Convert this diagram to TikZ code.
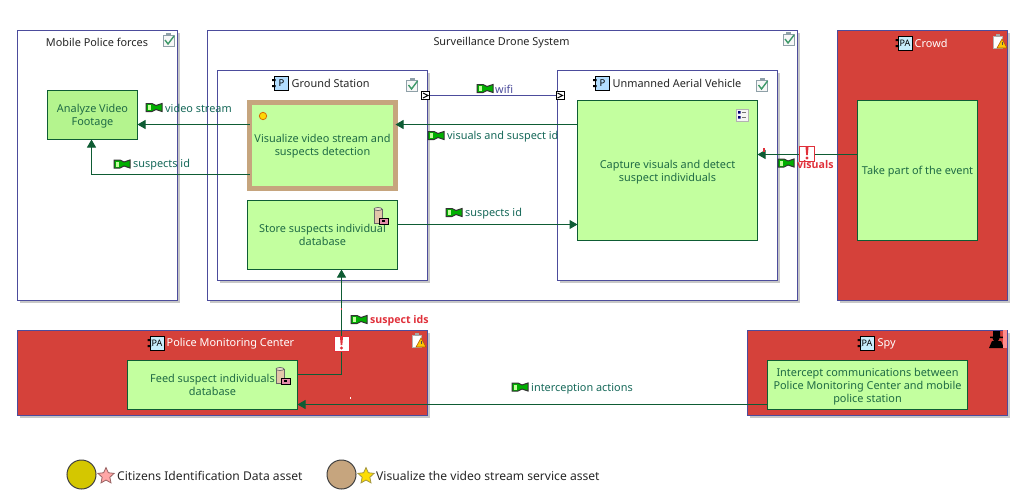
\documentclass[tikz,border=0pt]{standalone}
\usepackage{fontspec}
\setmainfont{Noto Sans}
\newfontfamily\alertfont{Open Sans}
\usetikzlibrary{arrows.meta,shadows,shapes.geometric}
\definecolor{framecol}{HTML}{4C4C9C}
\definecolor{attackcol}{HTML}{D5413A}
\definecolor{funccol}{HTML}{C3FF9F}
\definecolor{funcdark}{HTML}{B4F48E}
\definecolor{flowcol}{HTML}{0E5C34}
\definecolor{functext}{HTML}{1F6B45}
\definecolor{labeltext}{HTML}{17695A}
\definecolor{alertcol}{HTML}{E0303A}
\definecolor{assetyellow}{HTML}{D4C700}
\definecolor{assettan}{HTML}{C6A57E}
\definecolor{clipcol}{HTML}{8FA0A8}
\definecolor{checkcol}{HTML}{3F9A6A}
\tikzset{
  basefont/.style={font=\fontsize{10.9}{13}\selectfont},
  framebox/.style={draw=framecol, line width=1pt, inner sep=0pt, outer sep=0pt,
    drop shadow={shadow xshift=2.5pt, shadow yshift=-2.5pt, fill=black!22, opacity=1}},
  plainframe/.style={framebox, fill=white},
  redframe/.style={framebox, fill=attackcol},
  funcbox/.style={draw=flowcol, line width=1pt, fill=funccol, inner sep=0pt, outer sep=0pt,
    align=center, text=functext, basefont, text depth=0pt},
  titletext/.style={basefont, text=black!85, inner sep=0pt},
  redtitle/.style={basefont, text=white, inner sep=0pt},
  flow/.style={draw=flowcol, line width=1pt, -{Triangle[length=8pt,width=9pt]}},
  flowtext/.style={basefont, text=labeltext, anchor=west, inner sep=0pt},
  alerttext/.style={text=alertcol, anchor=west, inner sep=0pt, font=\alertfont\fontsize{10.6}{13}\selectfont\bfseries},
  portbox/.style={draw=black, line width=1pt, fill=white, minimum size=8pt, inner sep=0pt, outer sep=0pt},
  alertbox/.style={draw=alertcol, line width=1pt, fill=white, minimum width=15pt, minimum height=15pt, inner sep=0pt},
  assetdot/.style={circle, draw=black!75, line width=1pt, minimum size=29pt, inner sep=0pt},
  legendtext/.style={font=\fontsize{12.1}{14}\selectfont, text=black!85, anchor=west, inner sep=0pt},
  % small icons
  checkicon/.pic={
    \draw[clipcol, fill=black!3, line width=.8pt] (-5,-5) rectangle (6,6);
    \fill[clipcol] (-2,-7) rectangle (3,-4);
    \draw[checkcol, line width=1.4pt] (-3,0) -- (0,4) -- (6,-4);
  },
  warnicon/.pic={
    \draw[black!30, fill=white, line width=.8pt] (-6,-5) rectangle (3,7);
    \fill[black!35] (-3,-7) rectangle (1,-4);
    \draw[orange!70!black, fill=yellow!60!orange, line width=.6pt] (-2,7) -- (3,-2) -- (8,7) -- cycle;
    \draw[black!70, line width=1pt] (3,1) -- (3,4);
  },
  compicon/.pic={
    \draw[black, line width=.8pt, fill=blue!45!cyan!30!white] (-7,-7) rectangle (7,7);
    \fill[black] (-9.5,-4) rectangle (-6,-2) (-9.5,2) rectangle (-6,4);
    \node[font=\fontsize{9.5}{10}\selectfont, text=black, inner sep=0pt] at (0,0) {P};
  },
  actoricon/.pic={
    \draw[black, line width=.8pt, fill=cyan!22!white] (-7,-7) rectangle (7,7);
    \fill[black] (-9.5,-4) rectangle (-6,-2) (-9.5,2) rectangle (-6,4);
    \node[font=\fontsize{9}{10}\selectfont, text=black, inner sep=0pt] at (0,0) {PA};
  },
  flagicon/.pic={
    \draw[black!80, fill=green!55!black!70!green, line width=1pt] (-8,-4) -- (-2,-4) -- (2,-2) -- (8,-4) -- (8,4) -- (2,2) -- (-2,4) -- (-8,4) -- cycle;
    \fill[funccol] (-6.5,-2.5) rectangle (-3,2.5);
  },
  dbicon/.pic={
    \draw[black!60, fill=brown!45!white, line width=.7pt] (-7,-8) rectangle (1,6);
    \draw[black!60, fill=brown!25!white, line width=.7pt] (-3,-8) ellipse (4 and 1.5);
    \draw[black, fill=purple!45!white, line width=.8pt] (-2,1) rectangle (7,7);
    \fill[black] (1,3) rectangle (4,5);
  },
  listicon/.pic={
    \draw[black!30, fill=black!4, line width=.8pt] (-6,-6) rectangle (6,6);
    \fill[blue!45!black] (-4,-4) rectangle (-1.5,-1.5) (-4,1) rectangle (-1.5,3.5);
    \draw[black!55, line width=.8pt] (0,-3) -- (4,-3) (0,2) -- (4,2);
  },
  staricon/.pic={
    \node[star, star points=5, star point ratio=2.1, draw=#1!60!black, fill=#1, line width=.8pt,
      minimum size=17pt, inner sep=0pt] {};
  },
  spyicon/.pic={
    \fill[black] (-4,-9) rectangle (3,-3) (-7,-3.5) rectangle (6,-2);
    \fill[black] (-1,-2) circle (3.5);
    \fill[black] (-8,8) -- (-5,1) -- (4,1) -- (7,8) -- cycle;
    \fill[red!45!white] (6,-10) rectangle (10,8);
  },
  exclaim/.pic={
    \fill[alertcol] (-1.5,-6) -- (1.5,-6) -- (.8,2) -- (-.8,2) -- cycle;
    \fill[alertcol] (0,5) circle (1.7);
  },
}
\begin{document}
\begin{tikzpicture}[x=1pt, y=-1pt]
\useasboundingbox (0,0) rectangle (1016,501);
% outer frames
\node[plainframe, minimum width=160pt, minimum height=270pt] (mobile) at (97.5,165.5) {};
\node[plainframe, minimum width=590pt, minimum height=270pt] (drone) at (502.5,165.5) {};
\node[redframe, minimum width=170pt, minimum height=270pt] (crowd) at (922.5,165.5) {};
\node[redframe, minimum width=410pt, minimum height=85pt] (center) at (222.5,373) {};
\node[redframe, minimum width=260pt, minimum height=85pt] (spy) at (877.5,373) {};
% inner frames
\node[plainframe, minimum width=210pt, minimum height=210pt] (ground) at (322.5,175.5) {};
\node[plainframe, minimum width=220pt, minimum height=210pt] (uav) at (667.5,175.5) {};
% titles
\node[titletext] (mobiletitle) at (97,42.5) {Mobile Police forces};
\node[titletext] (dronetitle) at (501.5,42.5) {Surveillance Drone System};
\node[titletext, anchor=west] (groundtitle) at (291.5,83.5) {Ground Station};
\node[titletext, anchor=west] (uavtitle) at (612.5,83.5) {Unmanned Aerial Vehicle};
\node[redtitle, anchor=west] (crowdtitle) at (914.5,43.5) {Crowd};
\node[redtitle, anchor=west] (centertitle) at (166.5,343.5) {Police Monitoring Center};
\node[redtitle, anchor=west] (spytitle) at (877.5,343.5) {Spy};
% functions
\node[funcbox, fill=funcdark, minimum width=90pt, minimum height=49pt] (analyze) at (92.5,115) {Analyze Video\\Footage};
\node[funcbox, draw=assettan, line width=5pt, minimum width=146pt, minimum height=85.5pt] (visualize) at (322.5,145.25) {Visualize video stream and\\suspects detection};
\node[funcbox, minimum width=150pt, minimum height=69pt] (store) at (322.5,235) {Store suspects individual\\database};
\node[funcbox, minimum width=180pt, minimum height=140pt] (capture) at (667.5,170.5) {Capture visuals and detect\\suspect individuals};
\node[funcbox, minimum width=120pt, minimum height=140pt] (event) at (917.5,170.5) {Take part of the event};
\node[funcbox, minimum width=170pt, minimum height=49pt] (feed) at (212.5,385) {Feed suspect individuals\\database};
\node[funcbox, minimum width=200pt, minimum height=49pt] (intercept) at (867.5,385) {Intercept communications between\\Police Monitoring Center and mobile\\police station};
% connectors
\draw[flow] ([yshift=20.75pt]visualize.west) -- ([yshift=-9.5pt]analyze.east);
\draw[flow] ([yshift=-29.25pt]visualize.west) -| ([xshift=-1pt]analyze.south);
\draw[flow] ([yshift=46pt]capture.west) -- ([yshift=20.75pt]visualize.east);
\draw[flow] ([yshift=10.5pt]store.east) -- ([yshift=-54pt]capture.west);
\draw[flow] ([yshift=16pt]event.west) -- ([yshift=16pt]capture.east);
\draw[flow] ([yshift=10.5pt]feed.east) -| ([xshift=19pt]store.south);
\draw[flow] ([yshift=-19.5pt]intercept.west) -- ([yshift=-19.5pt]feed.east);
% wifi ports
\node[portbox] (portleft) at (425.5,95.5) {};
\node[portbox] (portright) at (560,95.5) {};
\draw[framecol, line width=1pt] (portleft) -- (portright);
\draw[black, line width=1pt] (423,93) -- (428,95.5) -- (423,98);
\draw[black, line width=1pt] (557.5,93) -- (562.5,95.5) -- (557.5,98);
% alert marks
\node[alertbox] (alertvisuals) at (807,154) {};
\pic at (807,153) {exclaim};
\node[alertbox] (alertids) at (341.5,344) {};
\pic at (341.5,343) {exclaim};
% icons
\pic at (168,40) {checkicon};
\pic at (788,39) {checkicon};
\pic at (411.5,85) {checkicon};
\pic at (761.5,85) {checkicon};
\pic at (999,41) {warnicon};
\pic at (418,340) {warnicon};
\pic at (281.5,83) {compicon};
\pic at (602.5,83) {compicon};
\pic at (905,43) {actoricon};
\pic at (157,343) {actoricon};
\pic at (867,343) {actoricon};
\pic at (997,340) {spyicon};
\pic at (381,217) {dbicon};
\pic at (283,377) {dbicon};
\pic at (742,115) {listicon};
\draw[orange!85!black, fill=yellow!75!orange, line width=.8pt] (263,116) circle (3.7);
% flow labels
\pic at (154,107.5) {flagicon};
\node[flowtext] (videolabel) at (165,108.5) {video stream};
\pic at (122,164) {flagicon};
\node[flowtext] (idlabel) at (133,164.5) {suspects id};
\pic at (485,88.5) {flagicon};
\node[flowtext, text=framecol] (wifilabel) at (495,89.5) {wifi};
\pic at (436,135.5) {flagicon};
\node[flowtext] (visualslabel) at (447,136.5) {visuals and suspect id};
\pic at (454,212.5) {flagicon};
\node[flowtext] (storelabel) at (465,213.5) {suspects id};
\pic at (786,163) {flagicon};
\node[alerttext] (eventlabel) at (797,164.5) {visuals};
\pic at (359,319.5) {flagicon};
\node[alerttext] (feedlabel) at (370,320.5) {suspect ids};
\pic at (520,387) {flagicon};
\node[flowtext] (spylabel) at (531,388.5) {interception actions};
% stray marks
\fill[alertcol] (340.7,308) rectangle (342.3,309.6);
\fill[white] (349.6,397) rectangle (351,398.6);
\fill[alertcol] (763.4,148) rectangle (764.6,152);
% legend
\node[assetdot, fill=assetyellow] (dataasset) at (81.5,474.5) {};
\pic at (106,476) {staricon=red!35!white};
\node[legendtext] (datatext) at (117,476) {Citizens Identification Data asset};
\node[assetdot, fill=assettan] (serviceasset) at (341.5,474.5) {};
\pic at (366,476) {staricon=yellow!80!orange};
\node[legendtext] (servicetext) at (376,476) {Visualize the video stream service asset};
\end{tikzpicture}
\end{document}
